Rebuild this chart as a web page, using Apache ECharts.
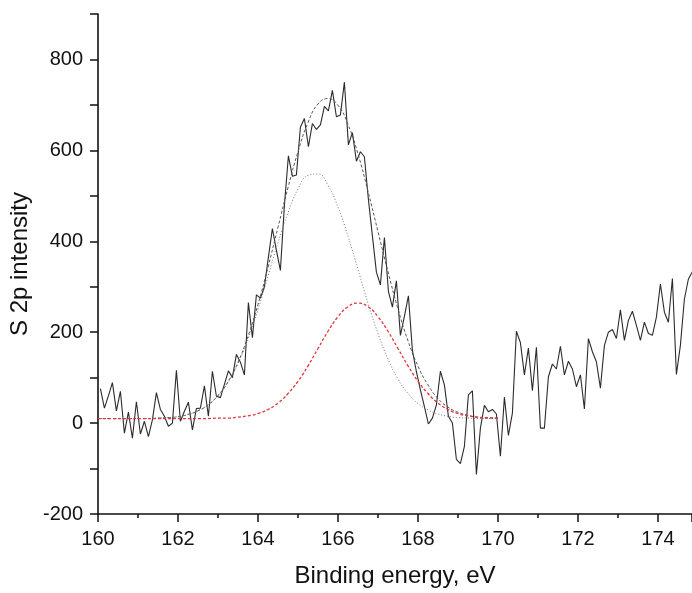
<!DOCTYPE html>
<html>
<head>
<meta charset="utf-8">
<script src="https://cdn.jsdelivr.net/npm/echarts@6/dist/echarts.min.js"></script>
<style>
  html, body { margin: 0; padding: 0; background: #fff; }
  #chart { width: 692px; height: 593px; }
</style>
</head>
<body>
<div id="chart"></div>
<script>
// measured spectrum (0.1 eV steps starting at 160.06 eV)
const spectrumStart = 160.06;
const spectrumStep = 0.1;
const spectrum = [
  76, 33, 60, 89, 27, 70, -22, 24, -33, 47,
  -24, 4, -30, 7, 67, 30, 15, -7, 0, 116,
  4, 26, 46, -15, 32, 33, 82, 15, 114, 59,
  56, 85, 115, 100, 151, 134, 106, 265, 188, 282,
  275, 300, 365, 428, 380, 336, 479, 588, 543, 546,
  651, 670, 608, 659, 646, 656, 697, 687, 732, 674,
  678, 750, 612, 639, 576, 597, 586, 492, 412, 332,
  304, 408, 290, 255, 313, 193, 235, 280, 160, 113,
  73, 36, -2, 11, 40, 114, 84, 15, 0, -80,
  -89, -51, 62, 71, -113, -11, 39, 25, 30, 20,
  -73, 57, -27, 22, 202, 177, 106, 165, 71, 167,
  -11, -11, 102, 130, 119, 169, 106, 136, 119, 80,
  106, 31, 186, 157, 135, 77, 171, 200, 206, 186,
  249, 182, 226, 246, 215, 182, 222, 197, 193, 233,
  306, 244, 222, 318, 107, 171, 273, 317, 333
];

// fitted curves (0.25 eV steps, 160 to 170 eV)
const fitStart = 160;
const fitStep = 0.25;
const envelope = [
  10, 10, 10, 10, 10, 10, 11, 12, 14, 19,
  27, 40, 61, 91, 134, 191, 261, 343, 431, 518,
  597, 661, 702, 714, 699, 657, 592, 510, 421, 333,
  251, 181, 125, 84, 54, 35, 24, 17, 13, 12, 11
];
const peak1 = [
  10, 10, 10, 10, 10, 10, 11, 12, 14, 19,
  27, 40, 60, 90, 131, 185, 250, 323, 397, 463,
  515, 545, 548, 523, 475, 411, 338, 264, 197, 141,
  97, 65, 43, 29, 20, 15, 12, 11, 10, 10, 10
];
const peak2 = [
  10, 10, 10, 10, 10, 10, 10, 10, 10, 10,
  10, 10, 11, 11, 13, 16, 21, 30, 44, 65,
  92, 126, 164, 202, 234, 256, 264, 256, 234, 202,
  164, 126, 92, 65, 44, 30, 21, 16, 13, 11, 11
];

const xTicks = [160, 162, 164, 166, 168, 170, 172, 174];
const yLabels = [-200, 0, 200, 400, 600, 800];

function pairs(start, step, values) {
  return values.map((v, i) => [+(start + i * step).toFixed(2), v]);
}

const font = "'Liberation Sans', Arial, sans-serif";

const chart = echarts.init(document.getElementById("chart"));
chart.setOption({
  animation: false,
  backgroundColor: "#fff",
  grid: { left: 98, right: 0, top: 14, bottom: 77 },
  xAxis: {
    type: "value",
    min: 160,
    max: 174.85,
    interval: 2,
    name: "Binding energy, eV",
    nameLocation: "middle",
    nameGap: 50,
    nameTextStyle: { fontFamily: font, fontSize: 24, color: "#111" },
    axisLine: { show: true, onZero: false, lineStyle: { color: "#111", width: 1.6 } },
    axisTick: { show: true, inside: false, length: 8, lineStyle: { color: "#111", width: 1.5 } },
    minorTick: { show: true, splitNumber: 2, length: 4, lineStyle: { color: "#111", width: 1.5 } },
    splitLine: { show: false },
    axisLabel: {
      margin: 15,
      fontFamily: font,
      fontSize: 20,
      color: "#111",
      showMaxLabel: false,
      formatter: (v) => (xTicks.includes(v) ? String(v) : "")
    }
  },
  yAxis: {
    type: "value",
    min: -200,
    max: 900,
    interval: 100,
    name: "S 2p intensity",
    nameLocation: "middle",
    nameGap: 55,
    nameTextStyle: { fontFamily: font, fontSize: 24, color: "#111" },
    axisLine: { show: true, onZero: false, lineStyle: { color: "#111", width: 1.6 } },
    axisTick: { show: true, inside: false, length: 8, lineStyle: { color: "#111", width: 1.5 } },
    splitLine: { show: false },
    axisLabel: {
      margin: 15,
      fontFamily: font,
      fontSize: 20,
      color: "#111",
      formatter: (v) => (yLabels.includes(v) ? String(v) : "")
    }
  },
  series: [
    {
      name: "measured",
      type: "line",
      data: pairs(spectrumStart, spectrumStep, spectrum),
      showSymbol: false,
      lineStyle: { color: "#2b2b2b", width: 1.1 },
      z: 3
    },
    {
      name: "envelope",
      type: "line",
      data: pairs(fitStart, fitStep, envelope),
      smooth: true,
      showSymbol: false,
      lineStyle: { color: "#555", width: 1, type: [3, 2] },
      z: 4
    },
    {
      name: "peak 1",
      type: "line",
      data: pairs(fitStart, fitStep, peak1),
      smooth: true,
      showSymbol: false,
      lineStyle: { color: "#777", width: 1, type: [1, 2] },
      z: 4
    },
    {
      name: "peak 2",
      type: "line",
      data: pairs(fitStart, fitStep, peak2),
      smooth: true,
      showSymbol: false,
      lineStyle: { color: "#e0363a", width: 1.3, type: [3, 2] },
      z: 5
    }
  ]
});
</script>
</body>
</html>
